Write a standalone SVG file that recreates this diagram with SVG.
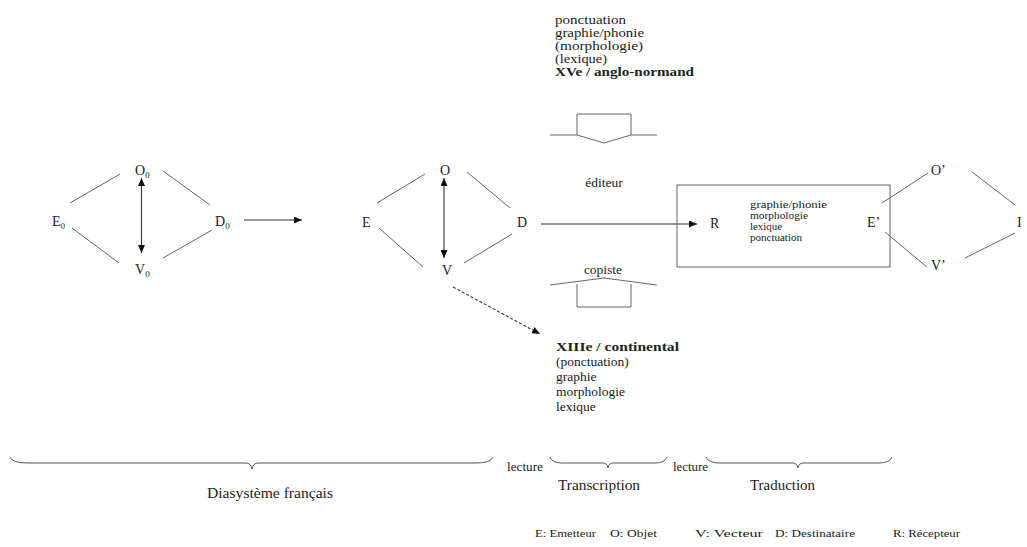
<svg xmlns="http://www.w3.org/2000/svg" width="1027" height="547" viewBox="0 0 1027 547">
<style>
.t{font-family:"Liberation Serif","Times New Roman",serif;fill:#222;font-size:14px}
.s{font-size:9px}
.b{font-weight:bold}
.top{font-size:12.3px}
.ln{stroke:#666;stroke-width:1;fill:none}
.ar{stroke:#333;stroke-width:1.1;fill:none}
.br{stroke:#555;stroke-width:1;fill:none}
</style>
<defs>
<marker id="ah" viewBox="0 0 8 7" refX="8" refY="3.5" markerWidth="8" markerHeight="7" markerUnits="userSpaceOnUse" orient="auto-start-reverse">
<path d="M0,0 L8,3.5 L0,7 z" fill="#111"/>
</marker>
</defs>
<rect width="1027" height="547" fill="#fff"/>

<g id="connectors">
<path class="ln" d="M70,203 L120,174 M163,171 L210,205 M72,228 L119,263 M163,258 L212,230"/>
<line class="ar" x1="141.5" y1="178" x2="141.5" y2="253" marker-start="url(#ah)" marker-end="url(#ah)"/>
<line class="ar" x1="244" y1="220" x2="302" y2="220" marker-end="url(#ah)"/>
<path class="ln" d="M377,203 L425,174 M467,172 L510,208 M379,228 L423,267 M464,263 L512,234"/>
<line class="ar" x1="444" y1="178" x2="444" y2="258" marker-start="url(#ah)" marker-end="url(#ah)"/>
<line class="ar" x1="541" y1="224" x2="697" y2="224" marker-end="url(#ah)"/>
<line class="ar" x1="453" y1="287" x2="540" y2="334" stroke-dasharray="3,2" marker-end="url(#ah)"/>
<path class="ln" d="M882,203 L928,173 M972,172 L1015,205 M885,232 L927,267 M965,258 L1015,233"/>
</g>

<g id="node-O0"><text class="t" x="135" y="175">O<tspan class="s" dy="3">0</tspan></text></g>
<g id="node-E0"><text class="t" x="52" y="226">E<tspan class="s" dy="3">0</tspan></text></g>
<g id="node-D0"><text class="t" x="215" y="226">D<tspan class="s" dy="3">0</tspan></text></g>
<g id="node-V0"><text class="t" x="135" y="274">V<tspan class="s" dy="3">0</tspan></text></g>

<g id="node-O"><text class="t" x="440" y="175">O</text></g>
<g id="node-E"><text class="t" x="362" y="227">E</text></g>
<g id="node-D"><text class="t" x="517" y="227">D</text></g>
<g id="node-V"><text class="t" x="442" y="275">V</text></g>

<g id="node-editeur-info">
<text class="t top" x="555" y="24" textLength="71" lengthAdjust="spacingAndGlyphs">ponctuation</text>
<text class="t top" x="555" y="37" textLength="89" lengthAdjust="spacingAndGlyphs">graphie/phonie</text>
<text class="t top" x="555" y="50" textLength="88" lengthAdjust="spacingAndGlyphs">(morphologie)</text>
<text class="t top" x="555" y="63" textLength="52" lengthAdjust="spacingAndGlyphs">(lexique)</text>
<text class="t top b" x="555" y="76" textLength="139" lengthAdjust="spacingAndGlyphs">XVe / anglo-normand</text>
</g>
<g id="node-editeur">
<path class="ln" d="M550,135 H577 V114 H631 V135 H657 M577,135 L604,143 L631,135"/>
<text class="t" x="604" y="187" text-anchor="middle" style="font-size:13.5px">éditeur</text>
</g>
<g id="node-copiste">
<text class="t" x="603" y="274" text-anchor="middle" style="font-size:13.5px">copiste</text>
<path class="ln" d="M550,285 L604,278 L657,285 M577,284 V307 H631 V284"/>
</g>
<g id="node-continental">
<text class="t b" x="556" y="351" textLength="123" lengthAdjust="spacingAndGlyphs" style="font-size:13.5px">XIIIe / continental</text>
<text class="t" x="556" y="366" style="font-size:13.5px">(ponctuation)</text>
<text class="t" x="556" y="381" style="font-size:13.5px">graphie</text>
<text class="t" x="556" y="396" style="font-size:13.5px">morphologie</text>
<text class="t" x="556" y="411" style="font-size:13.5px">lexique</text>
</g>

<g id="node-R-box">
<rect x="677" y="185" width="213" height="82" fill="none" stroke="#666" stroke-width="1"/>
<text class="t" x="710" y="228">R</text>
<text class="t" x="750" y="208" textLength="77" lengthAdjust="spacingAndGlyphs" style="font-size:11px">graphie/phonie</text>
<text class="t" x="750" y="219" textLength="58" lengthAdjust="spacingAndGlyphs" style="font-size:11px">morphologie</text>
<text class="t" x="750" y="230" textLength="32" lengthAdjust="spacingAndGlyphs" style="font-size:11px">lexique</text>
<text class="t" x="750" y="241" textLength="52" lengthAdjust="spacingAndGlyphs" style="font-size:11px">ponctuation</text>
<text class="t" x="867" y="227">E’</text>
</g>
<g id="node-Op"><text class="t" x="931" y="175">O’</text></g>
<g id="node-Vp"><text class="t" x="931" y="270">V’</text></g>
<g id="node-I"><text class="t" x="1017" y="227">I</text></g>

<g id="braces">
<path class="br" d="M10,457 Q12,463 28,463 L246,463 Q251,463 252,469 Q253,463 258,463 L476,463 Q491,463 493,457"/>
<text class="t" x="270" y="498" text-anchor="middle" textLength="126" lengthAdjust="spacingAndGlyphs" style="font-size:15px">Diasystème français</text>
<text class="t" x="507" y="471" textLength="36" lengthAdjust="spacingAndGlyphs" style="font-size:11.5px">lecture</text>
<path class="br" d="M550,457 Q552,463 562,463 L603,463 Q607,463 608,468 Q609,463 613,463 L655,463 Q665,463 667,457"/>
<text class="t" x="558" y="490" textLength="82" lengthAdjust="spacingAndGlyphs">Transcription</text>
<text class="t" x="673" y="471" textLength="35" lengthAdjust="spacingAndGlyphs" style="font-size:11.5px">lecture</text>
<path class="br" d="M706,457 Q708,463 720,463 L793,463 Q797,463 798,468 Q799,463 803,463 L878,463 Q890,463 892,457"/>
<text class="t" x="750" y="490" textLength="65" lengthAdjust="spacingAndGlyphs">Traduction</text>
</g>

<g id="legend">
<text class="t" x="535" y="537" textLength="61" lengthAdjust="spacingAndGlyphs" style="font-size:11px">E: Emetteur</text>
<text class="t" x="610" y="537" textLength="47" lengthAdjust="spacingAndGlyphs" style="font-size:11px">O: Objet</text>
<text class="t" x="695" y="537" textLength="68" lengthAdjust="spacingAndGlyphs" style="font-size:11px">V: Vecteur</text>
<text class="t" x="775" y="537" textLength="80" lengthAdjust="spacingAndGlyphs" style="font-size:11px">D: Destinataire</text>
<text class="t" x="893" y="537" textLength="67" lengthAdjust="spacingAndGlyphs" style="font-size:11px">R: Récepteur</text>
</g>
</svg>
